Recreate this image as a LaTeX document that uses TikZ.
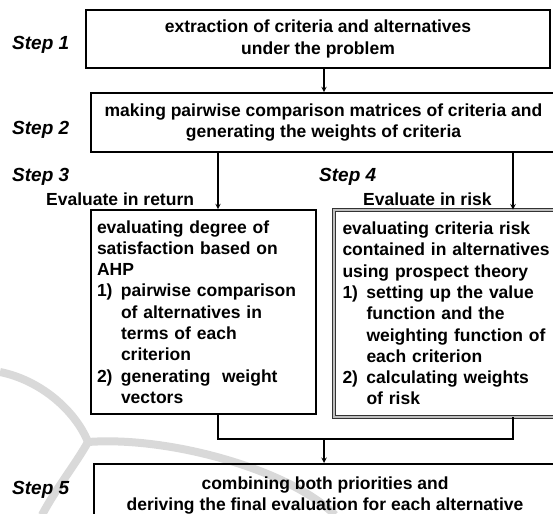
\documentclass[tikz,border=0pt]{standalone}
\usepackage{fontspec}
\setmainfont{Liberation Sans}
\usepackage{tikz}
\usetikzlibrary{arrows}
\usetikzlibrary{positioning, calc}
\usepackage{xcolor}

\definecolor{logogray}{HTML}{D9D9D9}
\newcommand{\boxfont}{\fontsize{17.5}{21.3}\selectfont\bfseries}
\newcommand{\stepfont}{\fontsize{19}{22}\selectfont\bfseries\itshape}
\newcommand{\itm}[1]{\makebox[24pt][l]{#1}}
\newcommand{\cont}{\hspace*{24pt}}

\tikzset{
  box/.style={draw, line width=1.6pt, align=center, inner sep=0pt, font=\boxfont},
  listbox/.style={draw, line width=1.6pt, align=left, inner ysep=0pt, font=\boxfont},
  riskbox/.style={listbox, draw=black!80, double=black!25, double distance=1.3pt, line width=0.9pt},
  steplabel/.style={anchor=west, font=\stepfont, inner sep=0pt},
  evallabel/.style={anchor=west, font=\boxfont, inner sep=0pt},
  conn/.style={line width=1.4pt},
  logo/.style={draw=logogray, line width=8pt}
}

\begin{document}
\begin{tikzpicture}[>=stealth, x=1pt, y=-1pt]
  \useasboundingbox (0,0) rectangle (553,513);
  \clip (0,0) rectangle (553,513);

  \draw[logo] (0,372) .. controls (40,380) and (75,410) .. (88,442);
  \draw[logo] (88,442) .. controls (75,465) and (55,490) .. (42,515);
  \draw[logo] (88,442) .. controls (170,436) and (290,470) .. (335,515);

  \node[steplabel] (l1) at (12,45) {Step 1};
  \node[steplabel] (l2) at (12,130) {Step 2};
  \node[steplabel] (l3) at (12,177) {Step 3};
  \node[steplabel] (l4) at (319,177) {Step 4};
  \node[steplabel] (l5) at (12,490) {Step 5};

  \node[evallabel] (inret) at (46,199) {Evaluate in return};
  \node[evallabel] (inrisk) at (363,199) {Evaluate in risk};

  \node[box, minimum width=464pt, minimum height=58pt] (s1) at (318,39)
    {extraction of criteria and alternatives\\under the problem};
  \node[box, minimum width=465pt, minimum height=59pt] (s2) at (323.5,122.5)
    {making pairwise comparison matrices of criteria and\\generating the weights of criteria};

  \node[listbox, minimum width=225pt, minimum height=204pt, text width=213pt, inner xsep=6pt] (ret) at (203.5,312)
    {evaluating degree of\\
     satisfaction based on\\
     AHP\\
     \itm{1)}pairwise comparison\\
     \cont of alternatives in\\
     \cont terms of each\\
     \cont criterion\\
     \itm{2)}generating\ \ weight\\
     \cont vectors};
  \node[riskbox, minimum width=232pt, minimum height=207pt, text width=215pt, inner xsep=8pt] (risk) at (450,313.5)
    {evaluating criteria risk\\
     contained in alternatives\\
     using prospect theory\\
     \itm{1)}setting up the value\\
     \cont function and the\\
     \cont weighting function of\\
     \cont each criterion\\
     \itm{2)}calculating weights\\
     \cont of risk};

  \node[box, anchor=north, minimum width=462pt, inner ysep=13pt] (s5) at (325,463)
    {combining both priorities and\\deriving the final evaluation for each alternative};

  \coordinate (retx) at (218,0);
  \coordinate (riskx) at (513,0);
  \coordinate (join) at (324,439);

  \draw[conn, ->] ([xshift=6pt]s1.south) -- ([xshift=6pt]s1.south |- s2.north);
  \draw[conn, ->] (s2.south -| retx) -- (ret.north -| retx);
  \draw[conn, ->] (s2.south -| riskx) -- (risk.north -| riskx);
  \draw[conn] (ret.south -| retx) |- (join) -| (risk.south -| riskx);
  \draw[conn, ->] (join) -- (join |- s5.north);
\end{tikzpicture}
\end{document}
